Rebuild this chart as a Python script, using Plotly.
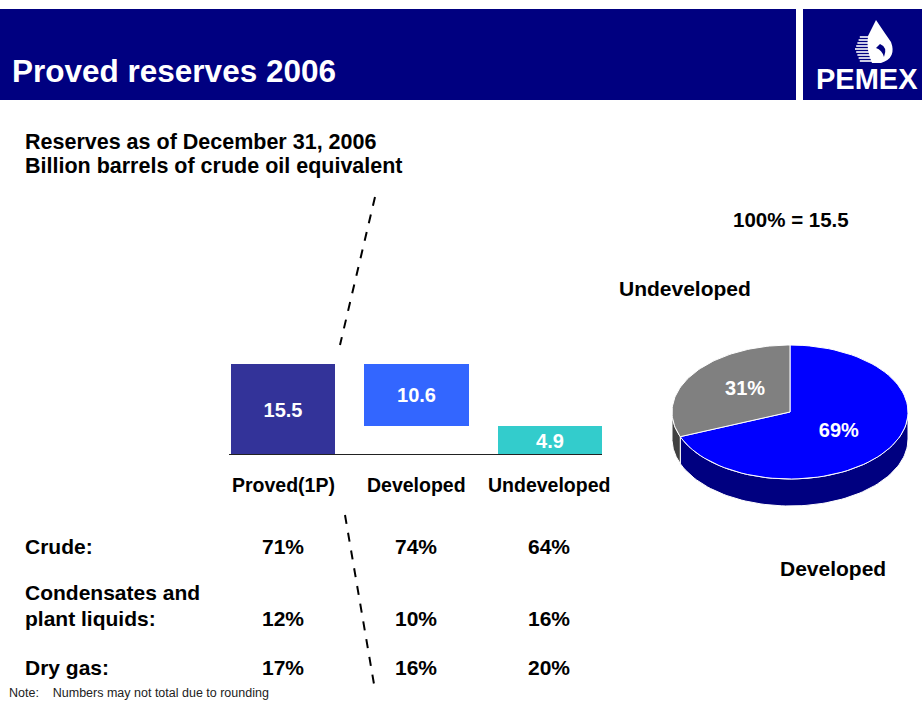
import numpy as np
import plotly.graph_objects as go

W, H = 922, 702
FONT = "Liberation Sans, Arial, sans-serif"

# ---- data ----
bar_categories = ["Proved(1P)", "Developed", "Undeveloped"]
bar_values = [15.5, 10.6, 4.9]
bar_bases = [0, 4.9, 0]
bar_colors = ["#333399", "#3366FF", "#33CCCC"]

row_labels = [["Crude:"], ["Condensates and", "plant liquids:"], ["Dry gas:"]]
crude_pct = ["71%", "74%", "64%"]
cond_pct = ["12%", "10%", "16%"]
gas_pct = ["17%", "16%", "20%"]

pie_labels = ["Developed", "Undeveloped"]
pie_shares = [69, 31]
pie_top_colors = ["#0000FF", "#808080"]
pie_side_colors = ["#000080", "#404040"]
pie_total = "100% = 15.5"


def px(x):
    return x / W


def py(y):
    return 1 - y / H


fig = go.Figure()

# ---- waterfall bars ----
fig.add_trace(go.Bar(
    x=[0, 1, 2], y=bar_values, base=bar_bases,
    marker=dict(color=bar_colors, line=dict(width=0)),
    width=0.78,
    text=[f"{v}" for v in bar_values],
    textposition="inside", insidetextanchor="middle",
    textfont=dict(color="white", size=20, family=FONT),
    texttemplate="<b>%{text}</b>",
    constraintext="none",
    cliponaxis=False,
    xaxis="x", yaxis="y", showlegend=False, hoverinfo="skip",
))

# baseline
fig.add_trace(go.Scatter(
    x=[-0.405, 2.39], y=[0, 0], mode="lines",
    line=dict(color="#222222", width=2),
    xaxis="x", yaxis="y", showlegend=False, hoverinfo="skip",
))

# ---- 3D pie built from shares ----
rx, ry, depth = 118, 67, 27
start = 90.0
und_span = pie_shares[1] / sum(pie_shares) * 360
dev_span = pie_shares[0] / sum(pie_shares) * 360
slices = {
    "Undeveloped": (start, start + und_span),
    "Developed": (start + und_span, start + und_span + dev_span),
}
label_k = {"Developed": (0.5, 0.53), "Undeveloped": (0.46, 0.58)}


def arc(t1, t2, dy=0, n=80):
    t = np.radians(np.linspace(t1, t2, n))
    return rx * np.cos(t), ry * np.sin(t) + dy


# sides (visible front half: 180..360)
for name, side_col in [("Developed", pie_side_colors[0]), ("Undeveloped", pie_side_colors[1])]:
    t1, t2 = slices[name]
    s1, s2 = max(t1, 180), min(t2, 360)
    if s2 > s1:
        xa, ya = arc(s1, s2)
        xb, yb = arc(s2, s1, dy=-depth)
        fig.add_trace(go.Scatter(
            x=np.concatenate([xa, xb, xa[:1]]), y=np.concatenate([ya, yb, ya[:1]]),
            mode="lines", fill="toself", fillcolor=side_col,
            line=dict(color="white", width=1),
            xaxis="x2", yaxis="y2", showlegend=False, hoverinfo="skip",
        ))

# tops
for name, top_col in [("Developed", pie_top_colors[0]), ("Undeveloped", pie_top_colors[1])]:
    t1, t2 = slices[name]
    xa, ya = arc(t1, t2)
    fig.add_trace(go.Scatter(
        x=np.concatenate([[0], xa, [0]]), y=np.concatenate([[0], ya, [0]]),
        mode="lines", fill="toself", fillcolor=top_col,
        line=dict(color="white", width=1),
        xaxis="x2", yaxis="y2", showlegend=False, hoverinfo="skip",
    ))

# pie percentage labels
for name, share in zip(pie_labels, pie_shares):
    t1, t2 = slices[name]
    mid = np.radians((t1 + t2) / 2)
    kx, ky = label_k[name]
    fig.add_trace(go.Scatter(
        x=[kx * rx * np.cos(mid)], y=[ky * ry * np.sin(mid)],
        mode="text", text=[f"<b>{share}%</b>"],
        textfont=dict(color="white", size=20, family=FONT),
        xaxis="x2", yaxis="y2", showlegend=False, hoverinfo="skip",
    ))

# ---- layout ----
ppu = 91 / 15.5  # px per unit
bar_top_px = 345
fig.update_layout(
    width=W, height=H, margin=dict(l=0, r=0, t=0, b=0),
    paper_bgcolor="white", plot_bgcolor="rgba(0,0,0,0)",
    font=dict(family=FONT, color="black"),
    bargap=0,
    xaxis=dict(domain=[px(229), px(602)], range=[-0.405, 2.39], visible=False, fixedrange=True),
    yaxis=dict(domain=[py(455), py(bar_top_px)], range=[0, (455 - bar_top_px) / ppu], visible=False, fixedrange=True),
    xaxis2=dict(domain=[px(660), px(920)], range=[-130, 130], visible=False, fixedrange=True),
    yaxis2=dict(domain=[py(525), py(330)], range=[412 - 525, 412 - 330], visible=False, fixedrange=True),
)

NAVY = "#000080"
shapes = []
# header bars
shapes.append(dict(type="rect", xref="paper", yref="paper", x0=0, x1=px(796), y0=py(100), y1=py(9),
                   fillcolor=NAVY, line=dict(width=0), layer="below"))
shapes.append(dict(type="rect", xref="paper", yref="paper", x0=px(803), x1=1, y0=py(100), y1=py(9),
                   fillcolor=NAVY, line=dict(width=0), layer="below"))

# logo: drop + eagle head
shapes.append(dict(type="path", xref="paper", yref="paper",
                   path=f"M {px(876)},{py(20)} Q {px(884)},{py(32)} {px(891)},{py(42)} "
                        f"Q {px(897)},{py(58)} {px(881)},{py(63)} L {px(872)},{py(63)} "
                        f"Q {px(866)},{py(50)} {px(868)},{py(36)} Z",
                   fillcolor="white", line=dict(width=0)))
for i, yy in enumerate(range(37, 64, 3)):
    x0 = 855 + abs(i - 4) * 1.2
    shapes.append(dict(type="line", xref="paper", yref="paper",
                       x0=px(x0), x1=px(878), y0=py(yy), y1=py(yy),
                       line=dict(color="white", width=1.6)))
shapes.append(dict(type="path", xref="paper", yref="paper",
                   path=f"M {px(880)},{py(44)} Q {px(888)},{py(47)} {px(884)},{py(57)} "
                        f"Q {px(882)},{py(50)} {px(876)},{py(48)} Z",
                   fillcolor=NAVY, line=dict(width=0)))

# dashed connectors
shapes.append(dict(type="line", xref="paper", yref="paper", x0=px(375), y0=py(197), x1=px(340), y1=py(345),
                   line=dict(color="black", width=2, dash="dash")))
shapes.append(dict(type="line", xref="paper", yref="paper", x0=px(345), y0=py(515), x1=px(375), y1=py(690),
                   line=dict(color="black", width=2, dash="dash")))
fig.update_layout(shapes=shapes)

ann = []


def A(text, x, y, size, color="black", xanchor="left", bold=True, yanchor="middle", family=FONT):
    ann.append(dict(text=f"<b>{text}</b>" if bold else text, x=px(x), y=py(y), xref="paper", yref="paper",
                    showarrow=False, xanchor=xanchor, yanchor=yanchor,
                    font=dict(size=size, color=color, family=family), align="left"))


A("Proved reserves 2006", 10, 71, 31.5, color="white")
A("PEMEX", 814, 79, 29, color="white")
A("Reserves as of December 31, 2006", 23, 142, 21.5)
A("Billion barrels of crude oil equivalent", 23, 166, 21.5)

cat_x = [283, 416, 549]
for c, xx in zip(bar_categories, cat_x):
    A(c, xx, 485, 19.5, xanchor="center")

label_y = [[546], [592, 618], [667]]
for lines, ys in zip(row_labels, label_y):
    for lab, yy in zip(lines, ys):
        A(lab, 23, yy, 21)
for vals, yy in zip([crude_pct, cond_pct, gas_pct], [546, 618, 667]):
    for v, xx in zip(vals, cat_x):
        A(v, xx, yy, 21, xanchor="center")

A(pie_total, 791, 220, 20.5, xanchor="center")
A(pie_labels[1], 685, 288, 21, xanchor="center")
A(pie_labels[0], 833, 568, 21, xanchor="center")
A("Note:&nbsp;&nbsp;&nbsp; Numbers may not total due to rounding", 7, 693, 12.5, bold=False, color="#222222")

fig.update_layout(annotations=ann)
fig.write_html("out.html")
